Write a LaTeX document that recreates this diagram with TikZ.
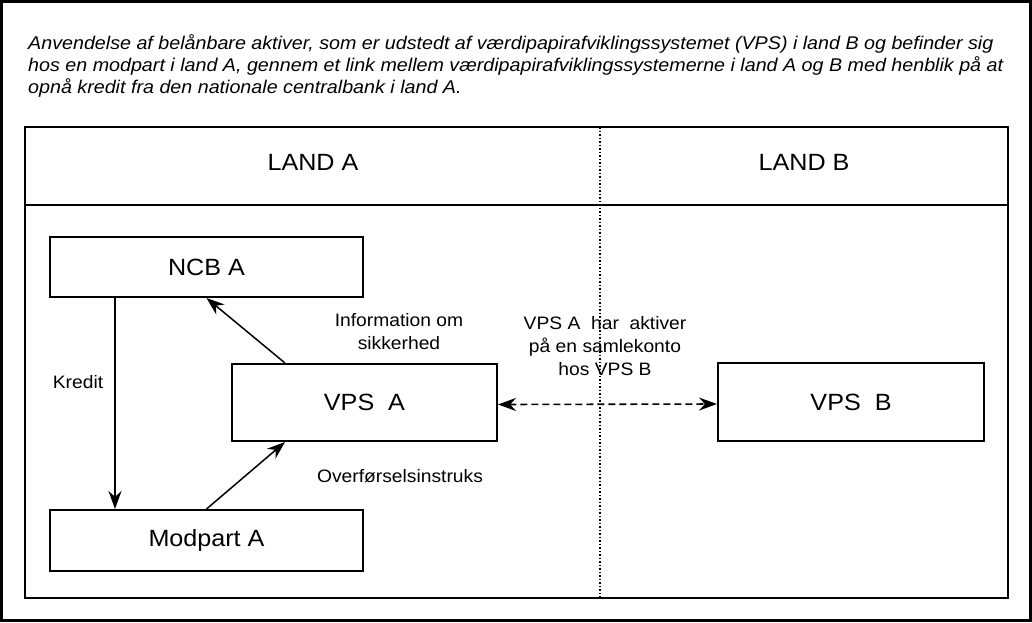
\documentclass[tikz,border=0pt]{standalone}
\usepackage{fontspec}
\setmainfont[FakeStretch=1.07]{Liberation Sans}
\usepackage{tikz}
\usetikzlibrary{positioning,calc,arrows.meta}
\tikzset{
  figfont/.style={font=\fontsize{18}{23}\selectfont},
  figbox/.style={draw, line width=2pt, inner sep=0pt, font=\fontsize{23.5}{26}\selectfont},
  figlabel/.style={align=center, font=\fontsize{18}{23}\selectfont},
  figarrow/.style={-{Stealth[length=18pt, width=13pt]}, line width=1.5pt},
  figarrowdashed/.style={{Stealth[length=18pt, width=13pt]}-{Stealth[length=18pt, width=13pt]},
    line width=1.6pt, dash pattern=on 7pt off 4pt},
}

\begin{document}
\begin{tikzpicture}[x=1pt,y=-1pt,figfont]
		\useasboundingbox (0,0) rectangle (1032,622);
		% Outer frame and caption
		\draw[line width=3pt] (1.5,1.5) rectangle (1030.5,620.5);
		\node[anchor=north west, align=left, inner sep=0pt,
		font=\itshape\fontsize{18.4}{22}\selectfont] (caption) at (28,34)
		{Anvendelse af belånbare aktiver, som er udstedt af værdipapirafviklingssystemet (VPS) i land B og befinder sig\\
		hos en modpart i land A, gennem et link mellem værdipapirafviklingssystemerne i land A og B med henblik på at\\
		opnå kredit fra den nationale centralbank i land A.};

		% Table with the two countries
		\draw[line width=2.2pt] (25,127) rectangle (1008,598);
		\draw[line width=2.2pt] (25,205) -- (1008,205);
		\draw[dotted, line width=1.5pt] (600,127) -- (600,598);
		\node[font=\fontsize{23.5}{26}\selectfont] (landa) at (313,162) {LAND A};
		\node[font=\fontsize{23.5}{26}\selectfont] (landb) at (804,162) {LAND B};

		% Boxes
		\node[figbox, minimum width=313pt, minimum height=60pt] (ncba) at (206.5,267) {NCB A};
		\node[figbox, minimum width=265pt, minimum height=77pt] (vpsa) at (364.5,402.5) {VPS~ A};
		\node[figbox, minimum width=313pt, minimum height=61pt] (modparta) at (206.5,540.5) {Modpart A};
		\node[figbox, minimum width=266pt, minimum height=78pt] (vpsb) at (851,402) {VPS~ B};

		% Connectors
		\draw[figarrow] ([xshift=66pt]ncba.south west) -- ([xshift=66pt]modparta.north west);
		\draw[figarrow] ([xshift=54pt]vpsa.north west) -- (ncba.south);
		\draw[figarrow] (modparta.north) -- ([xshift=54pt]vpsa.south west);
		\draw[figarrowdashed] ([yshift=-2pt]vpsa.east) -- ([yshift=-2pt]vpsb.west);

		% Labels
		\node[figlabel] (kredit) at (78,382) {Kredit};
		\node[figlabel] (info) at (399,332) {Information om\\sikkerhed};
		\node[figlabel] (instruks) at (400,476) {Overførselsinstruks};
		\node[figlabel] (samlekonto) at (605,346) {VPS A~ har~ aktiver\\på en samlekonto\\hos VPS B};
	\end{tikzpicture}
\end{document}
